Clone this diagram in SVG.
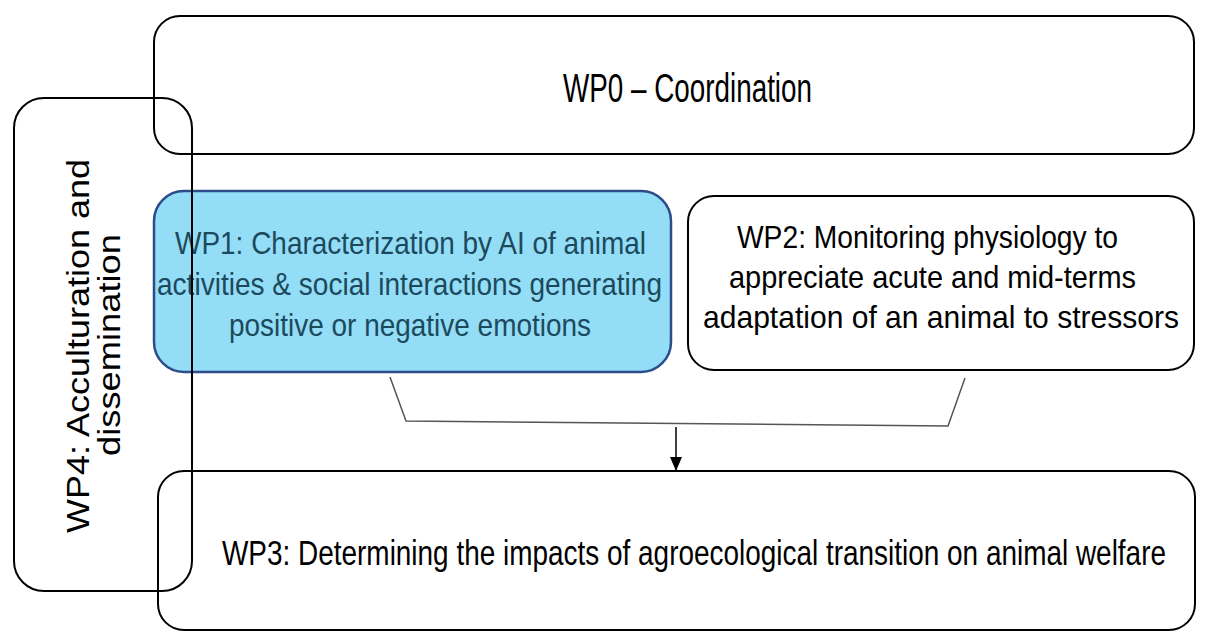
<svg xmlns="http://www.w3.org/2000/svg" width="1214" height="642" viewBox="0 0 1214 642">
  <defs>
    <style>
      .box { fill: none; stroke: #000; stroke-width: 2; }
      .t { font-family: "Liberation Sans", Arial, sans-serif; fill: #000; }
      .t1 { font-family: "Liberation Sans", Arial, sans-serif; fill: #1C4A5C; }
      .conn { fill: none; stroke: #555; stroke-width: 1.5; }
    </style>
    <marker id="arrow" viewBox="0 0 14 12" refX="14" refY="6" markerWidth="14" markerHeight="12" markerUnits="userSpaceOnUse" orient="auto">
      <path d="M0,0 L14,6 L0,12 z" fill="#000"/>
    </marker>
  </defs>
  <rect width="1214" height="642" fill="#fff"/>

  <g id="wp0">
    <rect class="box" x="154" y="16" width="1040" height="138" rx="26" ry="26"/>
    <text class="t" x="563" y="102" font-size="40" textLength="249" lengthAdjust="spacingAndGlyphs">WP0 – Coordination</text>
  </g>

  <g id="wp1">
    <rect x="154" y="191" width="517" height="181" rx="30" ry="30" fill="#93DDF7" stroke="#2C4C8A" stroke-width="2.5"/>
    <text class="t1" x="175" y="254" font-size="32" textLength="471" lengthAdjust="spacingAndGlyphs">WP1: Characterization by AI of animal</text>
    <text class="t1" x="157" y="295" font-size="32" textLength="505" lengthAdjust="spacingAndGlyphs">activities &amp; social interactions generating</text>
    <text class="t1" x="229" y="336" font-size="32" textLength="362" lengthAdjust="spacingAndGlyphs">positive or negative emotions</text>
  </g>

  <g id="wp2">
    <rect class="box" x="688" y="196" width="506" height="174" rx="26" ry="26"/>
    <text class="t" x="737" y="248" font-size="32" textLength="381" lengthAdjust="spacingAndGlyphs">WP2: Monitoring physiology to</text>
    <text class="t" x="729" y="288" font-size="32" textLength="407" lengthAdjust="spacingAndGlyphs">appreciate acute and mid-terms</text>
    <text class="t" x="703" y="328" font-size="32" textLength="476" lengthAdjust="spacingAndGlyphs">adaptation of an animal to stressors</text>
  </g>

  <g id="wp3">
    <rect class="box" x="158" y="471" width="1037" height="159" rx="26" ry="26"/>
    <text class="t" transform="translate(222,565) scale(1,1.28)" x="0" y="0" font-size="28" textLength="944" lengthAdjust="spacingAndGlyphs">WP3: Determining the impacts of agroecological transition on animal welfare</text>
  </g>

  <g id="connectors">
    <polyline class="conn" points="390,377 406,421 948,426 965,378"/>
    <line x1="676" y1="427" x2="676" y2="471" stroke="#000" stroke-width="1.5" marker-end="url(#arrow)"/>
  </g>

  <g id="wp4">
    <rect class="box" x="14" y="98" width="178" height="493" rx="30" ry="30"/>
    <text class="t" transform="translate(89,346) rotate(-90)" x="0" y="0" text-anchor="middle" font-size="32" textLength="374" lengthAdjust="spacingAndGlyphs">WP4: Acculturation and</text>
    <text class="t" transform="translate(120,345) rotate(-90)" x="0" y="0" text-anchor="middle" font-size="32" textLength="222" lengthAdjust="spacingAndGlyphs">dissemination</text>
  </g>
</svg>
